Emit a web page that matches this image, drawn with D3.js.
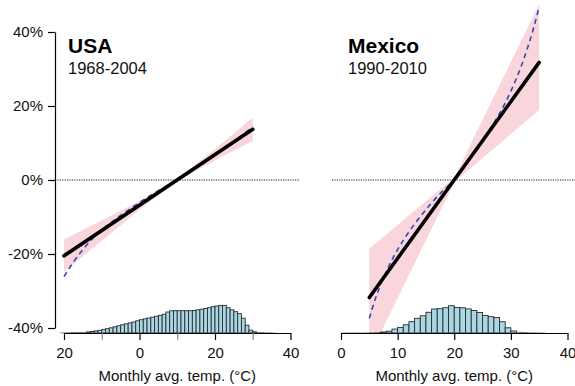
<!DOCTYPE html>
<html>
<head>
<meta charset="utf-8">
<script src="https://cdn.jsdelivr.net/npm/d3@7"></script>
<style>
  html, body { margin: 0; padding: 0; background: #fff; }
  svg { display: block; font-family: "Liberation Sans", Arial, Helvetica, sans-serif; }
</style>
</head>
<body>
<svg id="chart" width="575" height="386"></svg>
<script>
// ---- USA, 1968-2004 ----
const usTitle = "USA";
const usPeriod = "1968-2004";
const usFitTemp = [-20, 30];
const usFitEffect = [-20.5, 13.7];
const usCurveTemp = [-20, -17.5, -15, -12.5, -10, -5, 0, 5, 10, 15, 20, 25, 30];
const usCurveEffect = [-26.1, -22.2, -18.8, -15.9, -13.5, -9.6, -6.1, -2.9, 0, 3.2, 6.7, 10.4, 14.4];
const usBandTemp = [-20, -15, -10, -5, 0, 5, 10, 15, 20, 25, 30];
const usBandLow = [-24.8, -20.6, -16.4, -12.2, -8.0, -4.1, -0.4, 2.5, 5.3, 8.0, 10.6];
const usBandHigh = [-16.1, -13.5, -10.9, -8.3, -5.7, -2.7, 0.4, 4.3, 8.4, 12.6, 16.9];
const usHistStart = [-21, -20, -19, -18, -17, -16, -15, -14, -13, -12, -11, -10, -9, -8, -7, -6, -5, -4, -3, -2, -1,
  0, 1, 2, 3, 4, 5, 6, 7, 8, 9, 10, 11, 12, 13, 14, 15, 16, 17, 18, 19, 20, 21, 22, 23, 24, 25, 26, 27, 28, 29,
  30, 31, 32, 33, 34, 35];
const usHistShare = [0.2, 0.3, 0.3, 0.4, 0.5, 0.6, 0.8, 1.1, 1.5, 2.1, 2.7, 3.4, 4.3, 5.2, 6.2, 7.2, 8.2, 9.1, 10.1, 11.0, 12.2,
  13.3, 14.2, 15.0, 15.9, 16.8, 17.7, 18.8, 21.0, 22.2, 22.3, 22.3, 22.3, 22.3, 22.3, 22.5, 23.2, 23.8, 24.4, 25.3, 26.3,
  27.0, 27.6, 27.6, 25.3, 23.2, 21.3, 19.3, 14.8, 7.8, 2.8, 1.2, 0.6, 0.4, 0.3, 0.2, 0.1];
const usTicks = [-20, -10, 0, 10, 20, 30, 40];
const usTickLabels = ["20", "", "0", "", "20", "", "40"];

// ---- Mexico, 1990-2010 ----
const mxTitle = "Mexico";
const mxPeriod = "1990-2010";
const mxFitTemp = [5, 35];
const mxFitEffect = [-31.75, 31.8];
const mxCurveTemp = [5, 6, 7, 8, 9, 10, 12, 14, 16, 18, 20, 22, 24, 26, 28, 30, 32, 34, 35];
const mxCurveEffect = [-37.4, -32.4, -28.3, -24.8, -21.6, -18.8, -14.0, -9.9, -6.2, -2.9, 0, 4.0, 8.5, 13.0, 18.0, 24.0, 31.5, 41.0, 46.8];
const mxBandTemp = [5, 8, 11, 14, 17, 20, 23, 26, 29, 32, 35];
const mxBandLow = [-47.7, -38.2, -28.8, -19.4, -10.0, -0.6, 3.3, 7.2, 11.1, 15.0, 18.9];
const mxBandHigh = [-18.5, -14.7, -10.8, -7.0, -3.2, 0.6, 10.0, 19.4, 28.8, 38.2, 47.6];
const mxHistStart = [0, 1, 2, 3, 4, 5, 6, 7, 8, 9, 10, 11, 12, 13, 14, 15, 16, 17, 18, 19, 20, 21, 22, 23, 24, 25,
  26, 27, 28, 29, 30, 31, 32, 33, 34, 35];
const mxHistShare = [0.1, 0.1, 0.1, 0.1, 0.2, 0.3, 0.5, 1.0, 1.8, 3.9, 5.6, 8.2, 11.3, 14.7, 17.2, 20.7, 24.0, 24.3, 25.3, 27.3,
  25.6, 25.2, 24.1, 22.5, 20.5, 17.5, 16.3, 15.5, 11.3, 5.2, 2.0, 0.9, 0.5, 0.3, 0.2, 0.1];
const mxTicks = [0, 10, 20, 30, 40];
const mxTickLabels = ["0", "10", "20", "30", "40"];

const effectTicks = [-40, -20, 0, 20, 40];
const xAxisTitle = "Monthly avg. temp. (°C)";

const svg = d3.select("#chart");

// Shared vertical scale for the temperature effect (%)
const y = d3.scaleLinear().domain([-40, 40]).range([328, 32]);
const axisY = 333;
// Histogram height scale (share of months)
const h = d3.scaleLinear().domain([0, 28]).range([axisY, axisY - 28]);

const colors = {
  band: "#f9d6db",
  fit: "#000",
  curve: "#3346b5",
  histFill: "#a8d8e4",
  histStroke: "#2a2a2a"
};

function zip(a, b) { return a.map((v, i) => [v, b[i]]); }

function panel(opt) {
  const x = d3.scaleLinear().domain(opt.xDomain).range(opt.xRange);
  const g = svg.append("g");

  const clipId = "clip-" + opt.id;
  svg.append("defs").append("clipPath").attr("id", clipId)
    .append("rect").attr("x", 0).attr("y", 0).attr("width", 575).attr("height", axisY);

  // zero reference line
  g.append("line")
    .attr("x1", opt.zeroLine[0]).attr("x2", opt.zeroLine[1])
    .attr("y1", y(0)).attr("y2", y(0))
    .attr("stroke", "#000").attr("stroke-width", 0.9)
    .attr("stroke-dasharray", "1.2,1.2");

  // confidence band
  const area = d3.area()
    .x(d => x(d[0])).y0(d => y(d[1])).y1(d => y(d[2]));
  g.append("path")
    .datum(opt.bandTemp.map((t, i) => [t, opt.bandLow[i], opt.bandHigh[i]]))
    .attr("d", area)
    .attr("fill", colors.band)
    .attr("clip-path", `url(#${clipId})`);

  // histogram of monthly temperatures
  g.append("g").selectAll("rect")
    .data(zip(opt.histStart, opt.histShare))
    .join("rect")
    .attr("x", d => x(d[0]))
    .attr("width", d => x(d[0] + 1) - x(d[0]))
    .attr("y", d => h(d[1]))
    .attr("height", d => axisY - h(d[1]))
    .attr("fill", colors.histFill)
    .attr("stroke", colors.histStroke)
    .attr("stroke-width", d => d[1] < 1 ? 0.6 : 0.9)
    .attr("stroke-opacity", d => d[1] < 1 ? 0.6 : 1);

  const line = d3.line().x(d => x(d[0])).y(d => y(d[1]));

  // flexible (dashed) response
  g.append("path")
    .datum(zip(opt.curveTemp, opt.curveEffect))
    .attr("d", line.curve(d3.curveMonotoneX))
    .attr("fill", "none")
    .attr("stroke", colors.curve)
    .attr("stroke-width", 1.6)
    .attr("stroke-dasharray", "5,4");

  // linear fit
  g.append("path")
    .datum(zip(opt.fitTemp, opt.fitEffect))
    .attr("d", d3.line().x(d => x(d[0])).y(d => y(d[1])))
    .attr("fill", "none")
    .attr("stroke", colors.fit)
    .attr("stroke-width", 3.6)
    .attr("stroke-linecap", "round");

  // x axis
  const xa = g.append("g")
    .attr("transform", `translate(0,${axisY})`)
    .call(d3.axisBottom(x)
      .tickValues(opt.ticks)
      .tickSize(7)
      .tickSizeOuter(0)
      .tickPadding(7)
      .tickFormat((d, i) => opt.tickLabels[i]));
  xa.select(".domain").attr("stroke", "#000").attr("stroke-width", 1.2);
  xa.selectAll(".tick line")
    .attr("stroke", (d, i) => opt.tickLabels[i] === "" ? "#8a8a8a" : "#000")
    .attr("stroke-width", 1.2);
  xa.selectAll(".tick text")
    .attr("font-size", 15).attr("fill", "#111")
    .attr("font-family", "'Liberation Sans', Arial, Helvetica, sans-serif");

  g.append("text")
    .attr("x", (opt.xRange[0] + opt.xRange[1]) / 2)
    .attr("y", 381)
    .attr("text-anchor", "middle")
    .attr("font-size", 15)
    .attr("fill", "#111")
    .text(xAxisTitle);

  // titles
  g.append("text")
    .attr("x", opt.titleX).attr("y", 53)
    .attr("font-size", 21).attr("font-weight", "bold").attr("fill", "#000")
    .text(opt.title);
  g.append("text")
    .attr("x", opt.titleX).attr("y", 74)
    .attr("font-size", 16.5).attr("fill", "#111")
    .text(opt.period);

  return g;
}

// USA panel with the effect axis
panel({
  id: "usa",
  xDomain: [-20, 40], xRange: [64, 290.5],
  zeroLine: [55, 300],
  bandTemp: usBandTemp, bandLow: usBandLow, bandHigh: usBandHigh,
  histStart: usHistStart, histShare: usHistShare,
  curveTemp: usCurveTemp, curveEffect: usCurveEffect,
  fitTemp: usFitTemp, fitEffect: usFitEffect,
  ticks: usTicks, tickLabels: usTickLabels,
  title: usTitle, period: usPeriod, titleX: 68
});

const ya = svg.append("g")
  .attr("transform", "translate(55,0)")
  .call(d3.axisLeft(y)
    .tickValues(effectTicks)
    .tickSize(7)
    .tickSizeOuter(0)
    .tickPadding(5)
    .tickFormat(d => d + "%"));
ya.select(".domain").attr("stroke", "#000").attr("stroke-width", 1.2);
ya.selectAll(".tick line").attr("stroke", "#000").attr("stroke-width", 1.2);
ya.selectAll(".tick text")
  .attr("font-size", 15).attr("fill", "#111")
  .attr("font-family", "'Liberation Sans', Arial, Helvetica, sans-serif");

// Mexico panel
panel({
  id: "mexico",
  xDomain: [0, 40], xRange: [341, 567.5],
  zeroLine: [332, 575],
  bandTemp: mxBandTemp, bandLow: mxBandLow, bandHigh: mxBandHigh,
  histStart: mxHistStart, histShare: mxHistShare,
  curveTemp: mxCurveTemp, curveEffect: mxCurveEffect,
  fitTemp: mxFitTemp, fitEffect: mxFitEffect,
  ticks: mxTicks, tickLabels: mxTickLabels,
  title: mxTitle, period: mxPeriod, titleX: 348
});
</script>
</body>
</html>
